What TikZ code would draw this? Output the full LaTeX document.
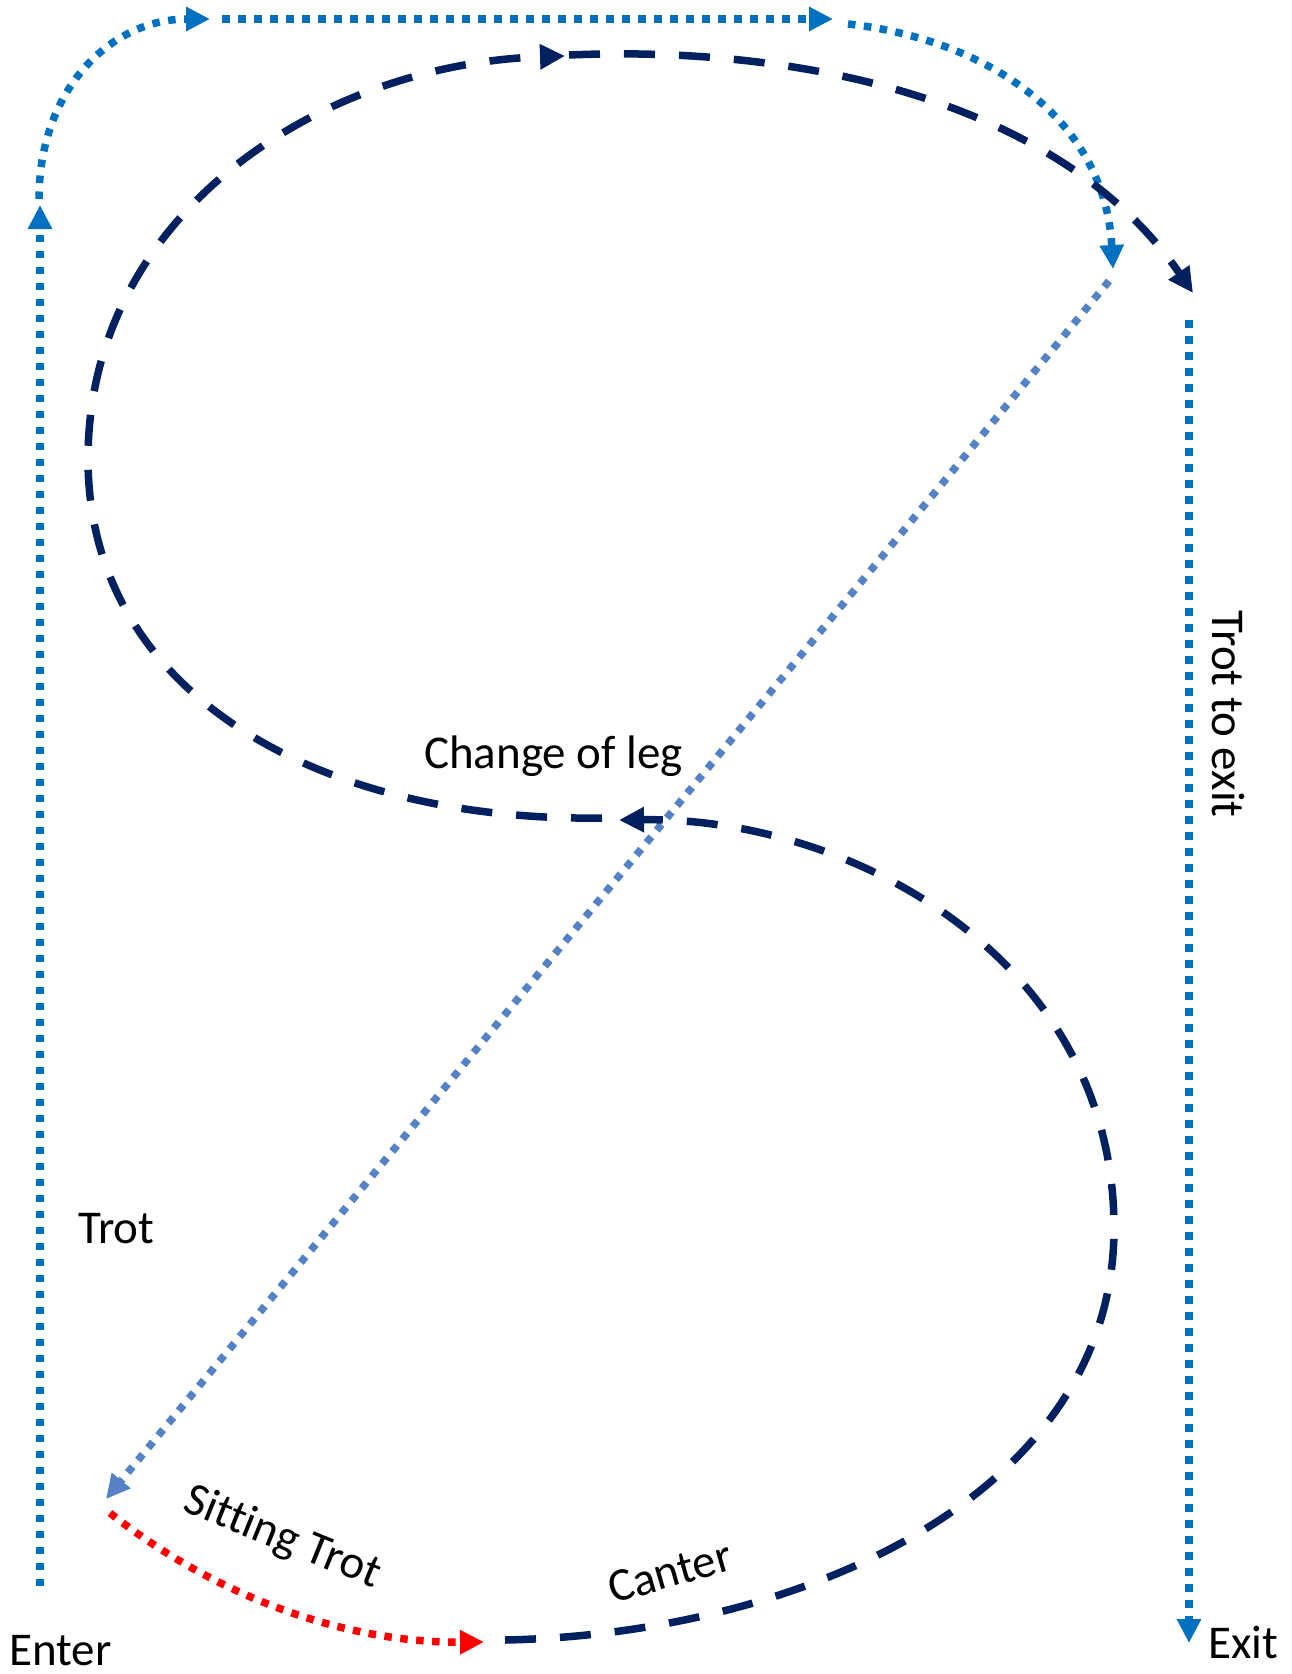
\documentclass[tikz,border=0pt]{standalone}
\usepackage{fontspec}
\setmainfont[Ligatures=NoCommon]{Carlito}
\usetikzlibrary{arrows.meta}
\definecolor{trotblue}{HTML}{0070C0}
\definecolor{navyline}{HTML}{002060}
\definecolor{diagblue}{RGB}{84,130,196}
\definecolor{sitred}{HTML}{FF0000}
\tikzset{
  dotline/.style={line width=7.5pt, dash pattern=on 7.5pt off 8.5pt},
  bluetip/.style={-{Triangle[length=24pt,width=23pt]}},
  trotpath/.style={dotline, draw=trotblue, fill=none, bluetip},
  diagpath/.style={dotline, draw=diagblue, bluetip},
  redpath/.style={dotline, draw=sitred, bluetip},
  canterpath/.style={line width=7.5pt, draw=navyline, dash pattern=on 31pt off 24pt, -{Triangle[length=25pt,width=24pt]}},
  lbl/.style={inner sep=0pt, font=\fontsize{47}{56}\selectfont, text=black}
}
\begin{document}
\begin{tikzpicture}[x=1pt,y=-1pt]
\useasboundingbox (0,0) rectangle (1291,1674);
% coordinates
\coordinate (enterA) at (40,1586);
\coordinate (enterB) at (40,205);
\coordinate (cornerA) at (39,199);
\coordinate (cornerB) at (210,19);
\coordinate (topA) at (222,19);
\coordinate (topB) at (833,19);
\coordinate (bendA) at (848,24);
\coordinate (bendB) at (1113,269);
\coordinate (diagA) at (1109,281);
\coordinate (diagB) at (106,1499);
\coordinate (redA) at (110,1513);
\coordinate (redB) at (484,1642);
\coordinate (exitA) at (1189,320);
\coordinate (exitB) at (1189,1643);
\coordinate (lowA) at (505,1640);
\coordinate (lowR) at (1114,1228);
\coordinate (midB) at (619,820);
\coordinate (upA) at (602,818);
\coordinate (upL) at (88,459);
\coordinate (upB) at (565,56);
\coordinate (finA) at (569,55);
\coordinate (finB) at (1193,293);
% trot paths
\draw[trotpath] (enterA) -- (enterB);
\draw[trotpath] (cornerA) .. controls (39,90) and (110,19) .. (cornerB);
\draw[trotpath] (topA) -- (topB);
\draw[trotpath] (bendA) .. controls (990,40) and (1105,120) .. (bendB);
\draw[trotpath] (exitA) -- (exitB);
% diagonal
\draw[diagpath] (diagA) -- (diagB);
% sitting trot
\draw[redpath] (redA) .. controls (220,1600) and (350,1643) .. (redB);
% canter figure
\draw[canterpath] (lowA) .. controls (801,1634) and (1114,1495) .. (lowR)
   .. controls (1114,961) and (854,817) .. (midB);
\draw[canterpath] (upA) .. controls (320,822) and (88,694) .. (upL)
   .. controls (88,214) and (320,64) .. (upB);
\draw[canterpath] (finA) .. controls (800,45) and (1060,100) .. (finB);
% labels
\node[lbl, anchor=base west] (leg) at (424,768) {Change of leg};
\node[lbl, anchor=base west] (trot) at (78,1243) {Trot};
\node[lbl, anchor=base west] (enter) at (9,1665) {Enter};
\node[lbl, anchor=base west] (exit) at (1208,1658) {Exit};
\node[lbl, rotate=-90] (trotexit) at (1228,714) {Trot to exit};
\node[lbl, rotate=-22] (sitting) at (282,1538) {Sitting Trot};
\node[lbl, rotate=16] (canter) at (670,1572) {Canter};
\end{tikzpicture}
\end{document}
